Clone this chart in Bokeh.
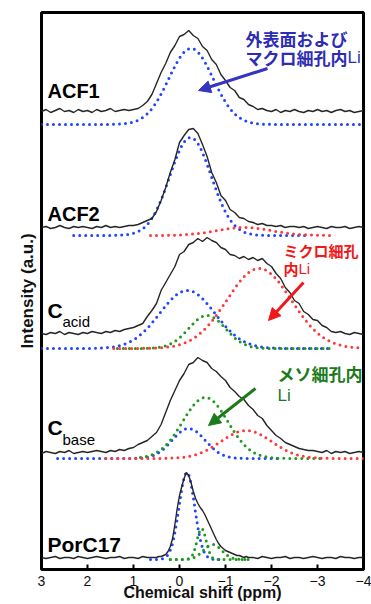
import numpy as np
from bokeh.plotting import figure
from bokeh.models import Range1d, FixedTicker, Label, Arrow, NormalHead, Title
from bokeh.embed import file_html
from bokeh.resources import INLINE

# ---------------- data ----------------
TICKS = [3, 2, 1, 0, -1, -2, -3, -4]
PANELS = ["ACF1", "ACF2", "Cacid", "Cbase", "PorC17"]
TRACE_BASE = [457, 341, 235, 116, 11]      # offset of each measured spectrum (a.u.)
FIT_BASE = [445, 334, 221, 111, 10]        # offset of each set of fitted components (a.u.)

# measured spectra, 3.0 -> -4.0 ppm every 0.1 ppm
PPM = np.round(np.linspace(3.0, -4.0, 71), 2)
ACF1_I = [1, 3, 0, 2, 4, 1, 2, 0, 3, 1, 2, 0, 3, 1, 2, 4, 1, 2, 3, 2,
          3, 4, 7, 11, 18, 29, 40, 49, 60, 67, 76, 78, 82, 77, 74, 66, 62, 53, 48, 38,
          32, 25, 22, 15, 13, 8, 6, 3, 4, 2, 1, 3, 0, 2, 1, 3, 1, 0, 2, 1,
          3, 1, 2, 0, 2, 3, 1, 2, 0, 1, 2]
ACF2_I = [1, 2, 0, 1, 3, 1, 0, 2, 1, 2, 1, 0, 2, 1, 3, 1, 2, 1, 2, 3,
          3, 4, 6, 8, 10, 17, 28, 41, 56, 69, 86, 93, 99, 100, 95, 84, 72, 56, 46, 33,
          28, 19, 16, 11, 10, 7, 6, 4, 5, 3, 3, 2, 3, 1, 2, 2, 1, 2, 0, 1,
          2, 1, 0, 2, 1, 1, 2, 0, 1, 2, 1]
CACID_I = [1, 0, 2, 1, 3, 0, 2, 1, 0, 2, 1, 3, 2, 1, 3, 2, 4, 3, 5, 6,
           7, 9, 11, 18, 24, 31, 44, 52, 60, 68, 80, 83, 90, 92, 96, 93, 97, 94, 92, 87,
           85, 80, 79, 76, 78, 75, 77, 74, 76, 71, 68, 61, 56, 47, 42, 34, 31, 23, 20, 15,
           14, 9, 7, 3, 2, 3, 1, 0, 2, 1, 0]
CBASE_I = [0, 2, 1, 0, 2, 1, 3, 0, 1, 2, 1, 2, 3, 2, 1, 3, 2, 4, 3, 5,
           6, 9, 11, 13, 17, 21, 29, 41, 53, 63, 73, 80, 89, 91, 96, 93, 91, 85, 82, 77,
           73, 66, 62, 57, 54, 48, 44, 38, 35, 28, 23, 18, 15, 11, 9, 7, 5, 4, 3, 3,
           2, 1, 3, 0, 2, 1, 2, 0, 1, 2, 1]
# PorC17 is sampled more finely around its narrow line
PORC_PPM = np.round(np.concatenate([np.linspace(3.0, 0.6, 25),
                                    np.linspace(0.55, -1.5, 42),
                                    np.linspace(-1.6, -4.0, 25)]), 2)
PORC_I = [1, 0, 1, 2, 0, 1, 1, 0, 2, 1, 0, 1, 2, 1, 0, 1, 1, 2, 0, 1, 1, 0, 2, 1, 1,
          1, 1, 2, 2, 3, 4, 7, 12, 20, 34, 50, 63, 72, 80, 86, 83, 76, 67, 60, 55, 51,
          48, 44, 39, 34, 29, 24, 19, 15, 12, 10, 8, 7, 6, 5, 4, 3, 3, 2, 1, 2, 1,
          1, 0, 2, 1, 0, 1, 1, 2, 0, 1, 1, 0, 1, 2, 1, 0, 1, 1, 0, 2, 1, 1, 0, 1, 1]

# fitted components: panel index, colour key, centre (ppm), width (ppm), height (a.u.), drawn range
COMP_PANEL = [0, 1, 1, 2, 2, 2, 3, 3, 3, 4, 4, 4]
COMP_KIND = ["b", "b", "r", "b", "g", "r", "b", "g", "r", "b", "g", "g"]
COMP_CENTER = [-0.25, -0.24, -1.40, -0.17, -0.60, -1.73, -0.20, -0.56, -1.45, -0.16, -0.48, -0.72]
COMP_WIDTH = [0.48, 0.45, 0.60, 0.60, 0.40, 0.70, 0.36, 0.49, 0.55, 0.17, 0.10, 0.20]
COMP_HEIGHT = [76, 98, 8, 58, 33, 80, 30, 61, 28, 87, 31, 15]
COMP_FROM = [3.0, 2.3, 0.63, 3.0, 1.35, 1.43, 2.65, 0.85, 1.6, 0.63, 0.2, 0.2]
COMP_TO = [-4.0, -2.78, -3.28, -3.3, -3.35, -4.0, -2.2, -3.13, -4.0, -0.96, -1.5, -1.5]

# ---------------- styles ----------------
DOT = {"b": "#1f45ff", "r": "#ff3a3a", "g": "#1f9a1f"}
LAT = "Liberation Sans"
CJK = "Noto Sans CJK JP"

p = figure(width=371, height=620, x_range=Range1d(3, -4), y_range=Range1d(0, 557),
           output_backend="svg", toolbar_location=None,
           min_border_left=41, min_border_right=8, min_border_top=12, min_border_bottom=51)
p.background_fill_color = "white"
p.border_fill_color = "white"
p.grid.visible = False
p.yaxis.visible = False
p.outline_line_color = "black"
p.outline_line_width = 3
p.outline_line_alpha = 1.0

xa = p.xaxis[0]
xa.ticker = FixedTicker(ticks=TICKS)
xa.axis_line_color = None
xa.major_tick_in = 5
xa.major_tick_out = 0
xa.major_tick_line_width = 2
xa.major_tick_line_color = "black"
xa.minor_tick_in = 0
xa.minor_tick_out = 0
xa.major_label_standoff = 6
xa.major_label_text_font = LAT
xa.major_label_text_font_size = "14px"
xa.major_label_text_color = "#111111"
xa.axis_label = "Chemical shift (ppm)"
xa.axis_label_standoff = -5
xa.axis_label_text_font = LAT
xa.axis_label_text_font_size = "16px"
xa.axis_label_text_font_style = "bold"
xa.axis_label_text_color = "#111111"

p.add_layout(Title(text="Intensity (a.u.)", text_font=LAT, text_font_size="17px",
                   text_font_style="bold", text_color="#111111", align="center",
                   standoff=10), "left")


def X(px):
    return 3 - (px - 41) / 46.0


def Y(py):
    return 569 - py


# fitted components (dotted)
for i in range(len(COMP_PANEL)):
    xs = np.linspace(COMP_FROM[i], COMP_TO[i], 300)
    ys = FIT_BASE[COMP_PANEL[i]] + COMP_HEIGHT[i] * np.exp(-0.5 * ((xs - COMP_CENTER[i]) / COMP_WIDTH[i]) ** 2)
    p.line(xs, ys, line_color=DOT[COMP_KIND[i]], line_width=3, line_dash="0 6", line_cap="round")

# measured spectra (black)
traces = [(PPM, ACF1_I), (PPM, ACF2_I), (PPM, CACID_I), (PPM, CBASE_I), (PORC_PPM, PORC_I)]
for k, (xs, vals) in enumerate(traces):
    p.line(xs, TRACE_BASE[k] + np.array(vals, dtype=float), line_color="#262626", line_width=1.4)


def lab(x, y, text, size, color="black", font=LAT, style="bold", align="left", baseline="middle"):
    p.add_layout(Label(x=x, y=y, text=text, text_font=font, text_font_size=size,
                       text_font_style=style, text_color=color, text_align=align,
                       text_baseline=baseline))


# panel names
lab(X(47), Y(90), "ACF1", "20px")
lab(X(47), Y(213), "ACF2", "20px")
lab(X(47), Y(310), "C", "21px")
lab(X(62), Y(321), "acid", "15px", style="normal")
lab(X(47), Y(427), "C", "21px")
lab(X(62), Y(439), "base", "15px", style="normal")
lab(X(47), Y(544), "PorC17", "21px")

# annotations
BLUE_T, RED_T, GREEN_T = "#2c2cb4", "#f01818", "#1b7a1b"
lab(X(245), Y(38), "外表面および", "17px", BLUE_T, CJK)
lab(X(245), Y(57), "マクロ細孔内", "17px", BLUE_T, CJK)
lab(X(347), Y(57), "Li", "17px", BLUE_T, style="normal")
lab(X(283), Y(250), "ミクロ細孔", "15px", RED_T, CJK)
lab(X(283), Y(268), "内", "15px", RED_T, CJK)
lab(X(298), Y(268), "Li", "15px", RED_T, style="normal")
lab(X(277), Y(373), "メソ細孔内", "17px", GREEN_T, CJK)
lab(X(277), Y(395), "Li", "17px", GREEN_T, style="normal")

for (x0, y0, x1, y1, c) in [(267, 68, 198, 90, "#3535c0"),
                            (303, 282, 268, 320, "#f01818"),
                            (255, 388, 208, 425, "#1b7a1b")]:
    p.add_layout(Arrow(end=NormalHead(size=12, fill_color=c, line_color=c, line_width=1),
                       x_start=X(x0), y_start=Y(y0), x_end=X(x1), y_end=Y(y1),
                       line_color=c, line_width=3))

open("out.html", "w").write(file_html(p, INLINE))
